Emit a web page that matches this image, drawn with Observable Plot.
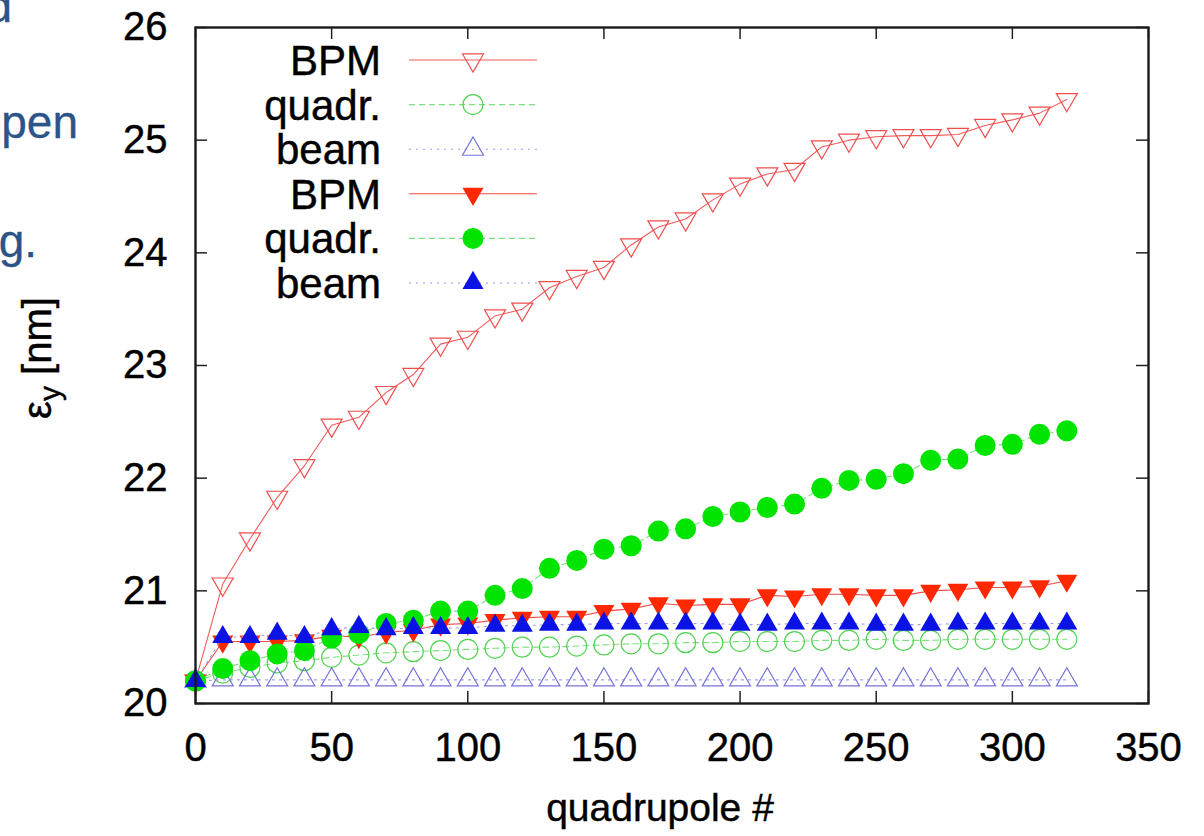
<!DOCTYPE html>
<html><head><meta charset="utf-8">
<script src="https://cdn.jsdelivr.net/npm/d3@7"></script>
<script src="https://cdn.jsdelivr.net/npm/@observablehq/plot@0.6"></script>
<style>
html,body{margin:0;padding:0;background:#fff;}
#chart{width:1204px;height:836px;overflow:hidden;position:relative;}
#chart g[aria-label="x-axis tick label"] text,
#chart g[aria-label="y-axis tick label"] text,
#chart text.dark {stroke:#000;stroke-width:0.45px;}
#chart text.slide {stroke:#2c5486;stroke-width:0.3px;}
</style></head><body><div id="chart"></div>
<script>
// ---- data ----
const quadrupole = [0,10,20,30,40,50,60,70,80,90,100,110,120,130,140,150,160,170,180,190,200,210,220,230,240,250,260,270,280,290,300,310,320];
const bpmOpen    = [20.2,21.06,21.46,21.83,22.11,22.47,22.54,22.76,22.92,23.19,23.25,23.44,23.50,23.69,23.79,23.87,24.07,24.23,24.30,24.47,24.61,24.70,24.74,24.94,25.00,25.03,25.04,25.04,25.05,25.13,25.18,25.24,25.36];
const quadrOpen  = [20.2,20.27,20.32,20.36,20.38,20.41,20.43,20.45,20.46,20.47,20.48,20.49,20.50,20.50,20.51,20.52,20.53,20.53,20.54,20.54,20.55,20.55,20.55,20.56,20.56,20.57,20.56,20.56,20.57,20.57,20.57,20.57,20.57];
const beamOpen   = [20.2,20.21,20.21,20.21,20.21,20.21,20.21,20.21,20.21,20.21,20.21,20.21,20.21,20.21,20.21,20.21,20.21,20.21,20.21,20.21,20.21,20.21,20.21,20.21,20.21,20.21,20.21,20.21,20.21,20.21,20.21,20.21,20.21];
const bpmFilled  = [20.2,20.55,20.55,20.55,20.56,20.60,20.59,20.63,20.65,20.70,20.71,20.74,20.76,20.77,20.77,20.82,20.84,20.89,20.87,20.88,20.88,20.96,20.95,20.97,20.97,20.96,20.96,21.00,21.01,21.03,21.03,21.04,21.09];
const quadrFilled= [20.2,20.31,20.38,20.44,20.47,20.58,20.62,20.71,20.74,20.82,20.82,20.96,21.02,21.20,21.27,21.37,21.40,21.53,21.55,21.66,21.70,21.74,21.77,21.91,21.98,21.99,22.04,22.16,22.17,22.29,22.30,22.39,22.42];
const beamFilled = [20.2,20.59,20.59,20.62,20.59,20.66,20.68,20.66,20.67,20.67,20.67,20.69,20.69,20.70,20.70,20.71,20.71,20.71,20.71,20.71,20.70,20.70,20.71,20.71,20.71,20.70,20.70,20.70,20.71,20.71,20.71,20.71,20.71];
const seriesLabels = ["BPM","quadr.","beam","BPM","quadr.","beam"];
const xTicks = [0,50,100,150,200,250,300,350];
const yTicks = [20,21,22,23,24,25,26];
const xLabel = "quadrupole #";
const slideFragments = ["d","pen","g."];

// ---- styling ----
const triangleDown = {
  draw(ctx, size) {
    const y = -Math.sqrt(size / (Math.sqrt(3) * 3));
    ctx.moveTo(0, -y * 2);
    ctx.lineTo(-Math.sqrt(3) * y, y);
    ctx.lineTo(Math.sqrt(3) * y, y);
    ctx.closePath();
  }
};
const styles = [
  {values: bpmOpen,    symbol: triangleDown, r: 7.8, fill: "none",    stroke: "#f04e4e", line: "#f25a5a", dash: null},
  {values: quadrOpen,  symbol: "circle",     r: 10,  fill: "none",    stroke: "#4fd34f", line: "#7fdf7f", dash: "6,4"},
  {values: beamOpen,   symbol: "triangle",   r: 7.8, fill: "none",    stroke: "#7474dc", line: "#9a9ae6", dash: "2,5"},
  {values: bpmFilled,  symbol: triangleDown, r: 7.8, fill: "#ff2800", stroke: "none",    line: "#f24a4a", dash: null},
  {values: quadrFilled,symbol: "circle",     r: 10.5,fill: "#00e400", stroke: "none",    line: "#7fdf7f", dash: "6,4"},
  {values: beamFilled, symbol: "triangle",   r: 7.8, fill: "#0a12e4", stroke: "none",    line: "#9a9ae6", dash: "2,5"}
];

const W = 1204, H = 836, mL = 195, mR = 56, mT = 27, mB = 133;
const innerW = W - mL - mR, innerH = H - mT - mB, tickLen = 12;

const marks = [];
styles.forEach(s => {
  const rows = quadrupole.map((q, i) => ({x: q, y: s.values[i]}));
  marks.push(Plot.line(rows, {x: "x", y: "y", stroke: s.line, strokeWidth: 1.1, strokeDasharray: s.dash}));
  marks.push(Plot.dot(rows, {x: "x", y: "y", symbol: s.symbol, r: s.r, fill: s.fill, stroke: s.stroke, strokeWidth: 1.2}));
});

const chart = Plot.plot({
  width: W, height: H,
  marginLeft: mL, marginRight: mR, marginTop: mT, marginBottom: mB,
  style: {fontFamily: "'Liberation Sans', Arial, Helvetica, sans-serif", color: "#000", background: "#fff"},
  x: {domain: [0, 350]},
  y: {domain: [20, 26]},
  marks: [
    Plot.axisX(xTicks, {anchor: "bottom", tickSize: 0, tickPadding: 29, fontSize: 40, label: null, tickFormat: d => String(d)}),
    Plot.axisY(yTicks, {anchor: "left", tickSize: 0, tickPadding: 28, fontSize: 40, label: null, tickFormat: d => String(d)}),
    Plot.tickX(xTicks, {x: d => d, insetTop: innerH - tickLen, stroke: "#222", strokeWidth: 1.5}),
    Plot.tickX(xTicks, {x: d => d, insetBottom: innerH - tickLen, stroke: "#222", strokeWidth: 1.5}),
    Plot.tickY(yTicks, {y: d => d, insetRight: innerW - tickLen, stroke: "#222", strokeWidth: 1.5}),
    Plot.tickY(yTicks, {y: d => d, insetLeft: innerW - tickLen, stroke: "#222", strokeWidth: 1.5}),
    ...marks,
    Plot.frame({stroke: "#1a1a1a", strokeWidth: 2.4})
  ]
});
document.getElementById("chart").appendChild(chart);

// ---- extra text & legend ----
const svg = d3.select(chart);
const font = "'Liberation Sans', Arial, Helvetica, sans-serif";

// x label
svg.append("text").attr("class", "dark").attr("x", 660).attr("y", 821).attr("text-anchor", "middle")
  .attr("font-family", font).attr("font-size", 39).attr("fill", "#000").text(xLabel);

// y label with subscript
const yl = svg.append("text").attr("class", "dark").attr("transform", "translate(51,358) rotate(-90)")
  .attr("text-anchor", "middle").attr("font-family", font).attr("font-size", 40).attr("fill", "#000");
yl.append("tspan").text("ε");
yl.append("tspan").attr("font-size", 30).attr("dy", 9).text("y");
yl.append("tspan").attr("dy", -9).text(" [nm]");

// cropped slide text on the left
const fragPos = [[12, 22], [78, 138], [37, 257]];
slideFragments.forEach((t, i) => {
  svg.append("text").attr("class", "slide").attr("x", fragPos[i][0]).attr("y", fragPos[i][1]).attr("text-anchor", "end")
    .attr("font-family", font).attr("font-size", 46).attr("fill", "#2c5486").text(t);
});

// legend
const lg = svg.append("g");
styles.forEach((s, i) => {
  const cy = 60 + i * 44.6;
  lg.append("text").attr("class", "dark").attr("x", 381).attr("y", cy + 15).attr("text-anchor", "end")
    .attr("font-family", font).attr("font-size", 42).attr("fill", "#000").text(seriesLabels[i]);
  lg.append("line").attr("x1", 409).attr("x2", 537).attr("y1", cy).attr("y2", cy)
    .attr("stroke", s.line).attr("stroke-width", 1.1).attr("stroke-dasharray", s.dash);
  const sym = s.symbol === "circle" ? d3.symbolCircle : s.symbol === "triangle" ? d3.symbolTriangle : triangleDown;
  lg.append("path").attr("d", d3.symbol().type(sym).size(Math.PI * s.r * s.r)())
    .attr("transform", `translate(473,${cy})`)
    .attr("fill", s.fill).attr("stroke", s.stroke).attr("stroke-width", 1.2);
});
</script></body></html>
